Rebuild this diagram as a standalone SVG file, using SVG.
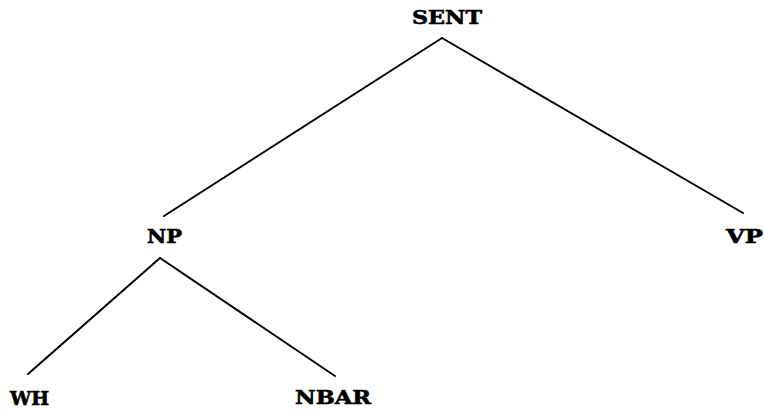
<svg xmlns="http://www.w3.org/2000/svg" width="764" height="412" viewBox="0 0 764 412">
<style>
.lbl{font-family:"DejaVu Serif","Liberation Serif",serif;font-weight:bold;font-size:19px;fill:#000;stroke:#000;stroke-width:0.6}
.edge{stroke:#000;stroke-width:2;fill:none;stroke-linecap:round}
</style>
<rect width="764" height="412" fill="#fff"/>
<g id="connectors">
<line class="edge" x1="442" y1="38" x2="164" y2="216"/>
<line class="edge" x1="442" y1="38" x2="743" y2="213"/>
<line class="edge" x1="160" y1="258" x2="28" y2="374"/>
<line class="edge" x1="160" y1="258" x2="335" y2="376"/>
</g>
<g id="SENT"><text class="lbl" x="412" y="24" textLength="70" lengthAdjust="spacingAndGlyphs">SENT</text></g>
<g id="NP"><text class="lbl" x="147" y="243" textLength="35" lengthAdjust="spacingAndGlyphs">NP</text></g>
<g id="VP"><text class="lbl" x="726" y="243" textLength="37" lengthAdjust="spacingAndGlyphs">VP</text></g>
<g id="WH"><text class="lbl" x="10" y="405" textLength="39" lengthAdjust="spacingAndGlyphs">WH</text></g>
<g id="NBAR"><text class="lbl" x="295" y="404" textLength="76" lengthAdjust="spacingAndGlyphs">NBAR</text></g>
</svg>
